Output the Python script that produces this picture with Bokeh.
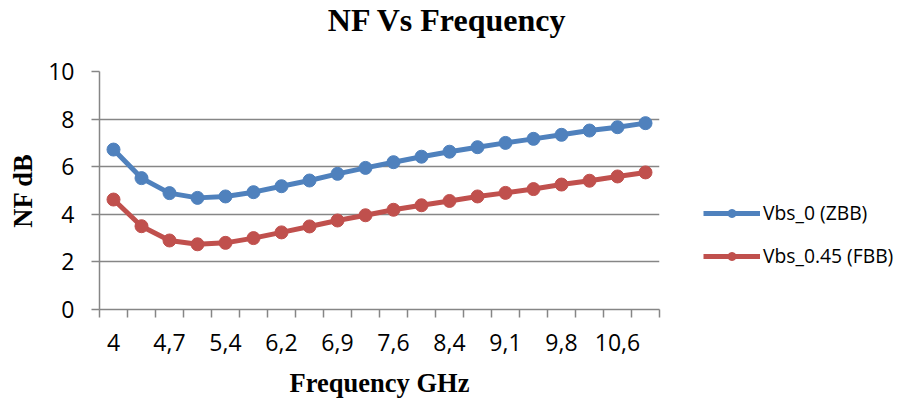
from bokeh.plotting import figure
from bokeh.models import FixedTicker, Legend, LegendItem, Range1d, Label
from bokeh.embed import file_html
from bokeh.resources import INLINE

freq_labels = ["4", "4,35", "4,7", "5,05", "5,4", "5,8", "6,2", "6,55", "6,9", "7,25",
               "7,6", "8", "8,4", "8,75", "9,1", "9,45", "9,8", "10,2", "10,6", "11"]
nf_zbb = [6.72, 5.52, 4.89, 4.69, 4.75, 4.93, 5.18, 5.42, 5.70, 5.95,
          6.19, 6.42, 6.63, 6.82, 7.00, 7.17, 7.34, 7.52, 7.66, 7.83]
nf_fbb = [4.62, 3.50, 2.90, 2.74, 2.80, 3.00, 3.24, 3.49, 3.74, 3.96,
          4.19, 4.38, 4.56, 4.75, 4.90, 5.06, 5.25, 5.41, 5.59, 5.76]
series_names = ["Vbs_0 (ZBB)", "Vbs_0.45 (FBB)"]
y_ticks = [0, 2, 4, 6, 8, 10]
chart_title = "NF Vs Frequency"

x = list(range(len(freq_labels)))
n = len(freq_labels)

GRID = "#868686"
BLUE = "#4F81BD"
RED = "#C0504D"

p = figure(frame_width=560, frame_height=238, output_backend="svg", toolbar_location=None,
           x_range=Range1d(-0.5, n - 0.5), y_range=Range1d(0, 10),
           min_border_left=99, min_border_right=240, min_border_top=71, min_border_bottom=91)
p.outline_line_color = None
p.background_fill_color = "white"
p.border_fill_color = "white"

title = Label(x=348, y=52, x_units="screen", y_units="screen", text=chart_title,
              text_align="center", text_baseline="alphabetic",
              text_font="Liberation Serif", text_font_style="bold", text_font_size="32px",
              text_color="black")
p.add_layout(title, "above")

xa = p.xaxis[0]
xa.ticker = FixedTicker(ticks=x[::2], minor_ticks=[i - 0.5 for i in range(n + 1)])
xa.major_label_overrides = {i: freq_labels[i] for i in x[::2]}
xa.major_tick_out = 0
xa.major_tick_in = 0
xa.minor_tick_out = 8
xa.minor_tick_in = 0
xa.minor_tick_line_color = GRID
xa.minor_tick_line_width = 1.5
xa.axis_line_color = GRID
xa.axis_line_width = 1.5
xa.major_label_standoff = 16
xa.major_label_text_font = "Open Sans"
xa.major_label_text_font_size = "23px"
xa.major_label_text_color = "black"
xa.axis_label = "Frequency GHz"
xa.axis_label_text_font = "Liberation Serif"
xa.axis_label_text_font_style = "bold"
xa.axis_label_text_font_size = "26.5px"
xa.axis_label_text_color = "black"
xa.axis_label_standoff = 14

ya = p.yaxis[0]
ya.ticker = FixedTicker(ticks=y_ticks, minor_ticks=[])
ya.major_tick_out = 8
ya.major_tick_in = 0
ya.major_tick_line_color = GRID
ya.major_tick_line_width = 1.5
ya.axis_line_color = GRID
ya.axis_line_width = 1.5
ya.major_label_standoff = 17
ya.major_label_text_font = "Open Sans"
ya.major_label_text_font_size = "23px"
ya.major_label_text_color = "black"
ya.axis_label = "NF dB"
ya.axis_label_text_font = "Liberation Serif"
ya.axis_label_text_font_style = "bold"
ya.axis_label_text_font_size = "26.5px"
ya.axis_label_text_color = "black"
ya.axis_label_standoff = 7

p.xgrid.visible = False
p.ygrid.ticker = FixedTicker(ticks=y_ticks)
p.ygrid.grid_line_color = GRID
p.ygrid.grid_line_width = 1.5

l1 = p.line(x, nf_zbb, line_color=BLUE, line_width=5)
c1 = p.scatter(x, nf_zbb, size=13, fill_color=BLUE, line_color=BLUE)
l2 = p.line(x, nf_fbb, line_color=RED, line_width=5)
c2 = p.scatter(x, nf_fbb, size=13, fill_color=RED, line_color=RED)

legend = Legend(items=[LegendItem(label=series_names[0], renderers=[l1, c1]),
                       LegendItem(label=series_names[1], renderers=[l2, c2])],
                location=(44, 40), orientation="vertical",
                glyph_width=57, glyph_height=20, label_height=20, spacing=16,
                label_standoff=3, padding=0, margin=0,
                border_line_color=None, background_fill_alpha=0,
                label_text_font="Open Sans", label_text_font_size="19.3px",
                label_text_color="black")
p.add_layout(legend, "right")

open("out.html", "w").write(file_html(p, INLINE))
